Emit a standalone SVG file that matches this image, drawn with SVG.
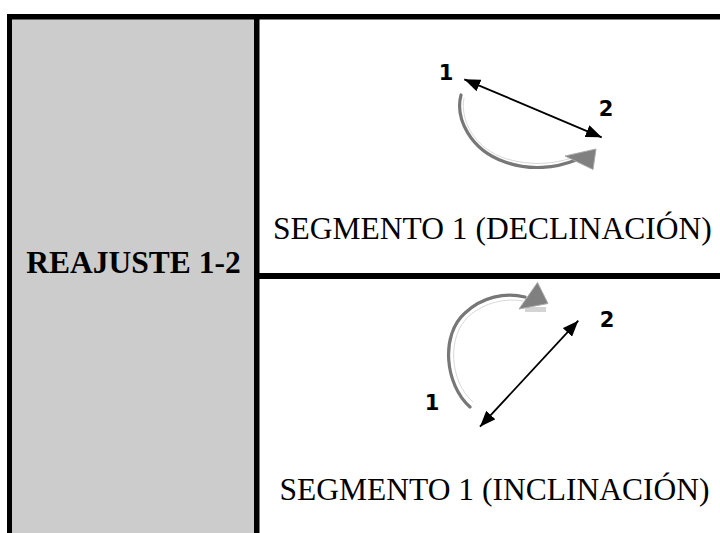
<svg xmlns="http://www.w3.org/2000/svg" width="720" height="533" viewBox="0 0 720 533">
<style>
.rule{fill:#000}
.big{font-family:"Liberation Serif","Times New Roman",serif;font-size:31.5px;fill:#000}
.num{font-family:"DejaVu Sans","Liberation Sans",sans-serif;font-weight:bold;font-size:21px;fill:#000;text-anchor:middle}
.dbl{stroke:#000;stroke-width:1.8;fill:none;marker-start:url(#ah);marker-end:url(#ah)}
.curve{stroke:#777;stroke-width:3.2;fill:none;stroke-linecap:round}
.hl{stroke:#d8d8d8;stroke-width:1;fill:none}
.head{fill:#808080;stroke:#aaa;stroke-width:1}
</style>
<defs>
<marker id="ah" viewBox="0 0 14 11" refX="14" refY="5.5" markerWidth="16" markerHeight="12.5" markerUnits="userSpaceOnUse" orient="auto-start-reverse">
<path d="M0,0 L14,5.5 L0,11 z" fill="#000"/>
</marker>
</defs>
<rect width="720" height="533" fill="#fff"/>
<g id="table">
<rect x="12" y="19" width="242" height="514" fill="#cccccc"/>
<rect class="rule" x="7" y="14" width="713" height="5.5"/>
<rect class="rule" x="7" y="14" width="5" height="519"/>
<rect class="rule" x="254" y="14" width="5.5" height="519"/>
<rect class="rule" x="254" y="273" width="466" height="6"/>
</g>
<g id="reajuste">
<text class="big" x="133.5" y="273" text-anchor="middle" font-weight="bold">REAJUSTE 1-2</text>
</g>
<g id="declinacion">
<text class="num" x="446" y="80">1</text>
<text class="num" x="606" y="116">2</text>
<path class="curve" d="M461,95 C455,118 470,150 505,162 C530,171 556,168 576,160"/>
<path class="hl" d="M464,98 C460,120 474,149 507,159 C531,166 553,164 572,158"/>
<polygon class="head" points="565,156 596,149 593,169.5"/>
<text class="big" x="273" y="238.5">SEGMENTO 1 (DECLINACIÓN)</text>
</g>
<g id="inclinacion">
<text class="num" x="432" y="410">1</text>
<text class="num" x="607" y="327">2</text>
<path class="curve" d="M470,407 C445,385 440,335 465,313 C482,297 505,292 525,297"/>
<path class="hl" d="M473,402 C450,382 446,337 469,316 C485,302 506,298 523,301"/>
<rect x="525" y="307" width="21" height="5" fill="#d4d4d4"/>
<polygon class="head" points="537.5,282.5 548,303.5 519,309"/>
<text class="big" x="279.5" y="499.5">SEGMENTO 1 (INCLINACIÓN)</text>
</g>
<g id="connectors">
<line class="dbl" x1="464.3" y1="79.3" x2="601.7" y2="137.3"/>
<line class="dbl" x1="480" y1="426.7" x2="578.3" y2="320.7"/>
</g>
</svg>
